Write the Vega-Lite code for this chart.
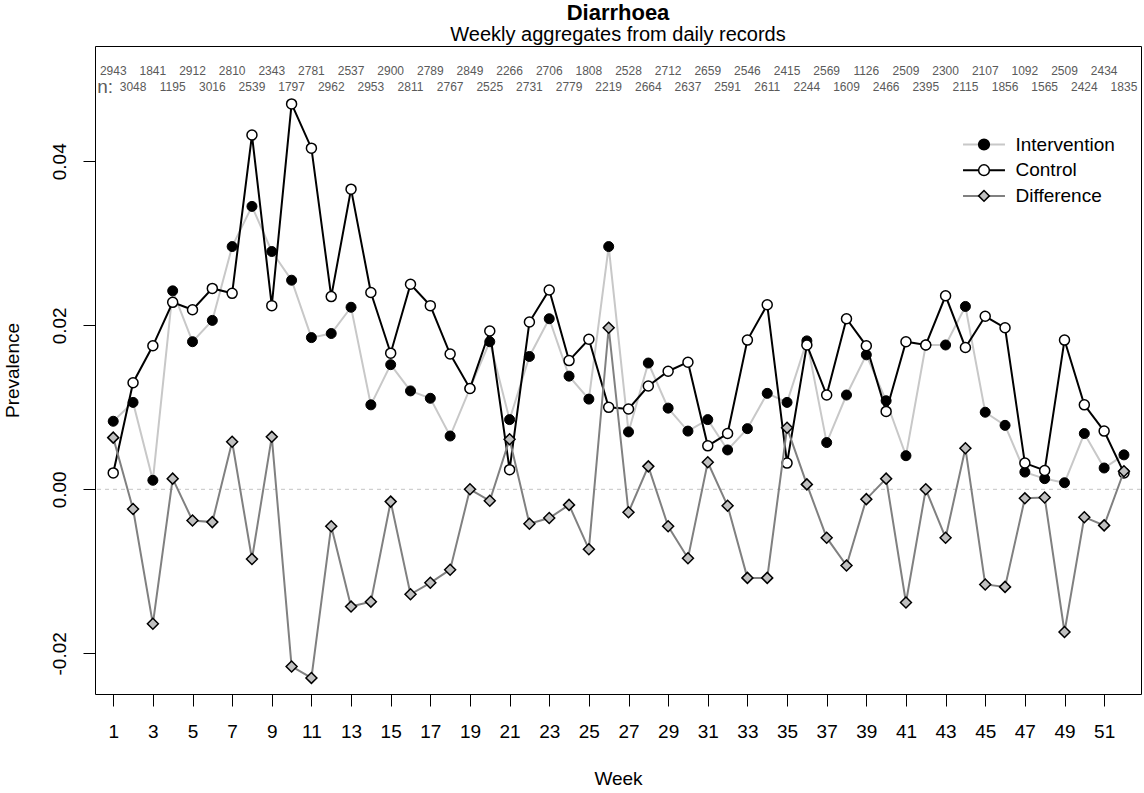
{
  "$schema": "https://vega.github.io/schema/vega-lite/v6.json",
  "width": 1046,
  "height": 648,
  "autosize": {"type": "none"},
  "padding": {"left": 95, "top": 46, "right": 3, "bottom": 99},
  "background": "white",
  "config": {
    "font": "Liberation Sans",
    "view": {"stroke": "black", "strokeWidth": 1},
    "axis": {"grid": false, "domain": false, "tickColor": "black", "labelColor": "black", "titleColor": "black", "labelFont": "Liberation Sans", "titleFont": "Liberation Sans", "titleFontWeight": "normal", "labelFontSize": 19, "titleFontSize": 19, "tickSize": 12, "labelOverlap": false, "labelFlush": false}
  },
  "title": {"text": "Diarrhoea", "subtitle": "Weekly aggregates from daily records", "anchor": "middle", "fontSize": 22, "fontWeight": "bold", "subtitleFontSize": 20, "color": "black", "subtitleColor": "black", "font": "Liberation Sans", "subtitleFont": "Liberation Sans", "offset": 0.5, "subtitlePadding": 0},
  "datasets": {
    "prev": [
      {"week": 1, "series": "Intervention", "value": 0.0083}, {"week": 1, "series": "Control", "value": 0.0020}, {"week": 1, "series": "Difference", "value": 0.0063},
      {"week": 2, "series": "Intervention", "value": 0.0106}, {"week": 2, "series": "Control", "value": 0.0130}, {"week": 2, "series": "Difference", "value": -0.0024},
      {"week": 3, "series": "Intervention", "value": 0.0011}, {"week": 3, "series": "Control", "value": 0.0175}, {"week": 3, "series": "Difference", "value": -0.0164},
      {"week": 4, "series": "Intervention", "value": 0.0242}, {"week": 4, "series": "Control", "value": 0.0228}, {"week": 4, "series": "Difference", "value": 0.0013},
      {"week": 5, "series": "Intervention", "value": 0.0180}, {"week": 5, "series": "Control", "value": 0.0219}, {"week": 5, "series": "Difference", "value": -0.0038},
      {"week": 6, "series": "Intervention", "value": 0.0206}, {"week": 6, "series": "Control", "value": 0.0245}, {"week": 6, "series": "Difference", "value": -0.0040},
      {"week": 7, "series": "Intervention", "value": 0.0296}, {"week": 7, "series": "Control", "value": 0.0239}, {"week": 7, "series": "Difference", "value": 0.0058},
      {"week": 8, "series": "Intervention", "value": 0.0345}, {"week": 8, "series": "Control", "value": 0.0432}, {"week": 8, "series": "Difference", "value": -0.0085},
      {"week": 9, "series": "Intervention", "value": 0.0290}, {"week": 9, "series": "Control", "value": 0.0224}, {"week": 9, "series": "Difference", "value": 0.0064},
      {"week": 10, "series": "Intervention", "value": 0.0255}, {"week": 10, "series": "Control", "value": 0.0470}, {"week": 10, "series": "Difference", "value": -0.0216},
      {"week": 11, "series": "Intervention", "value": 0.0185}, {"week": 11, "series": "Control", "value": 0.0416}, {"week": 11, "series": "Difference", "value": -0.0230},
      {"week": 12, "series": "Intervention", "value": 0.0190}, {"week": 12, "series": "Control", "value": 0.0235}, {"week": 12, "series": "Difference", "value": -0.0045},
      {"week": 13, "series": "Intervention", "value": 0.0222}, {"week": 13, "series": "Control", "value": 0.0366}, {"week": 13, "series": "Difference", "value": -0.0143},
      {"week": 14, "series": "Intervention", "value": 0.0103}, {"week": 14, "series": "Control", "value": 0.0240}, {"week": 14, "series": "Difference", "value": -0.0137},
      {"week": 15, "series": "Intervention", "value": 0.0152}, {"week": 15, "series": "Control", "value": 0.0166}, {"week": 15, "series": "Difference", "value": -0.0015},
      {"week": 16, "series": "Intervention", "value": 0.0120}, {"week": 16, "series": "Control", "value": 0.0250}, {"week": 16, "series": "Difference", "value": -0.0128},
      {"week": 17, "series": "Intervention", "value": 0.0111}, {"week": 17, "series": "Control", "value": 0.0224}, {"week": 17, "series": "Difference", "value": -0.0114},
      {"week": 18, "series": "Intervention", "value": 0.0065}, {"week": 18, "series": "Control", "value": 0.0165}, {"week": 18, "series": "Difference", "value": -0.0098},
      {"week": 19, "series": "Intervention", "value": 0.0123}, {"week": 19, "series": "Control", "value": 0.0123}, {"week": 19, "series": "Difference", "value": 0.0000},
      {"week": 20, "series": "Intervention", "value": 0.0180}, {"week": 20, "series": "Control", "value": 0.0193}, {"week": 20, "series": "Difference", "value": -0.0014},
      {"week": 21, "series": "Intervention", "value": 0.0085}, {"week": 21, "series": "Control", "value": 0.0024}, {"week": 21, "series": "Difference", "value": 0.0061},
      {"week": 22, "series": "Intervention", "value": 0.0162}, {"week": 22, "series": "Control", "value": 0.0204}, {"week": 22, "series": "Difference", "value": -0.0042},
      {"week": 23, "series": "Intervention", "value": 0.0208}, {"week": 23, "series": "Control", "value": 0.0243}, {"week": 23, "series": "Difference", "value": -0.0035},
      {"week": 24, "series": "Intervention", "value": 0.0138}, {"week": 24, "series": "Control", "value": 0.0157}, {"week": 24, "series": "Difference", "value": -0.0019},
      {"week": 25, "series": "Intervention", "value": 0.0110}, {"week": 25, "series": "Control", "value": 0.0183}, {"week": 25, "series": "Difference", "value": -0.0073},
      {"week": 26, "series": "Intervention", "value": 0.0296}, {"week": 26, "series": "Control", "value": 0.0100}, {"week": 26, "series": "Difference", "value": 0.0197},
      {"week": 27, "series": "Intervention", "value": 0.0070}, {"week": 27, "series": "Control", "value": 0.0098}, {"week": 27, "series": "Difference", "value": -0.0028},
      {"week": 28, "series": "Intervention", "value": 0.0154}, {"week": 28, "series": "Control", "value": 0.0126}, {"week": 28, "series": "Difference", "value": 0.0028},
      {"week": 29, "series": "Intervention", "value": 0.0099}, {"week": 29, "series": "Control", "value": 0.0144}, {"week": 29, "series": "Difference", "value": -0.0045},
      {"week": 30, "series": "Intervention", "value": 0.0071}, {"week": 30, "series": "Control", "value": 0.0155}, {"week": 30, "series": "Difference", "value": -0.0084},
      {"week": 31, "series": "Intervention", "value": 0.0085}, {"week": 31, "series": "Control", "value": 0.0053}, {"week": 31, "series": "Difference", "value": 0.0033},
      {"week": 32, "series": "Intervention", "value": 0.0048}, {"week": 32, "series": "Control", "value": 0.0068}, {"week": 32, "series": "Difference", "value": -0.0020},
      {"week": 33, "series": "Intervention", "value": 0.0074}, {"week": 33, "series": "Control", "value": 0.0182}, {"week": 33, "series": "Difference", "value": -0.0108},
      {"week": 34, "series": "Intervention", "value": 0.0117}, {"week": 34, "series": "Control", "value": 0.0225}, {"week": 34, "series": "Difference", "value": -0.0108},
      {"week": 35, "series": "Intervention", "value": 0.0106}, {"week": 35, "series": "Control", "value": 0.0032}, {"week": 35, "series": "Difference", "value": 0.0075},
      {"week": 36, "series": "Intervention", "value": 0.0181}, {"week": 36, "series": "Control", "value": 0.0176}, {"week": 36, "series": "Difference", "value": 0.0006},
      {"week": 37, "series": "Intervention", "value": 0.0057}, {"week": 37, "series": "Control", "value": 0.0115}, {"week": 37, "series": "Difference", "value": -0.0059},
      {"week": 38, "series": "Intervention", "value": 0.0115}, {"week": 38, "series": "Control", "value": 0.0208}, {"week": 38, "series": "Difference", "value": -0.0093},
      {"week": 39, "series": "Intervention", "value": 0.0164}, {"week": 39, "series": "Control", "value": 0.0175}, {"week": 39, "series": "Difference", "value": -0.0012},
      {"week": 40, "series": "Intervention", "value": 0.0108}, {"week": 40, "series": "Control", "value": 0.0095}, {"week": 40, "series": "Difference", "value": 0.0013},
      {"week": 41, "series": "Intervention", "value": 0.0041}, {"week": 41, "series": "Control", "value": 0.0180}, {"week": 41, "series": "Difference", "value": -0.0138},
      {"week": 42, "series": "Intervention", "value": 0.0176}, {"week": 42, "series": "Control", "value": 0.0176}, {"week": 42, "series": "Difference", "value": 0.0000},
      {"week": 43, "series": "Intervention", "value": 0.0176}, {"week": 43, "series": "Control", "value": 0.0236}, {"week": 43, "series": "Difference", "value": -0.0059},
      {"week": 44, "series": "Intervention", "value": 0.0223}, {"week": 44, "series": "Control", "value": 0.0173}, {"week": 44, "series": "Difference", "value": 0.0050},
      {"week": 45, "series": "Intervention", "value": 0.0094}, {"week": 45, "series": "Control", "value": 0.0211}, {"week": 45, "series": "Difference", "value": -0.0116},
      {"week": 46, "series": "Intervention", "value": 0.0078}, {"week": 46, "series": "Control", "value": 0.0197}, {"week": 46, "series": "Difference", "value": -0.0119},
      {"week": 47, "series": "Intervention", "value": 0.0021}, {"week": 47, "series": "Control", "value": 0.0032}, {"week": 47, "series": "Difference", "value": -0.0011},
      {"week": 48, "series": "Intervention", "value": 0.0013}, {"week": 48, "series": "Control", "value": 0.0023}, {"week": 48, "series": "Difference", "value": -0.0010},
      {"week": 49, "series": "Intervention", "value": 0.0008}, {"week": 49, "series": "Control", "value": 0.0182}, {"week": 49, "series": "Difference", "value": -0.0174},
      {"week": 50, "series": "Intervention", "value": 0.0068}, {"week": 50, "series": "Control", "value": 0.0103}, {"week": 50, "series": "Difference", "value": -0.0034},
      {"week": 51, "series": "Intervention", "value": 0.0026}, {"week": 51, "series": "Control", "value": 0.0071}, {"week": 51, "series": "Difference", "value": -0.0044},
      {"week": 52, "series": "Intervention", "value": 0.0042}, {"week": 52, "series": "Control", "value": 0.0020}, {"week": 52, "series": "Difference", "value": 0.0022}
    ],
    "counts": [
      {"week": 1, "n": 2943}, {"week": 2, "n": 3048}, {"week": 3, "n": 1841}, {"week": 4, "n": 1195},
      {"week": 5, "n": 2912}, {"week": 6, "n": 3016}, {"week": 7, "n": 2810}, {"week": 8, "n": 2539},
      {"week": 9, "n": 2343}, {"week": 10, "n": 1797}, {"week": 11, "n": 2781}, {"week": 12, "n": 2962},
      {"week": 13, "n": 2537}, {"week": 14, "n": 2953}, {"week": 15, "n": 2900}, {"week": 16, "n": 2811},
      {"week": 17, "n": 2789}, {"week": 18, "n": 2767}, {"week": 19, "n": 2849}, {"week": 20, "n": 2525},
      {"week": 21, "n": 2266}, {"week": 22, "n": 2731}, {"week": 23, "n": 2706}, {"week": 24, "n": 2779},
      {"week": 25, "n": 1808}, {"week": 26, "n": 2219}, {"week": 27, "n": 2528}, {"week": 28, "n": 2664},
      {"week": 29, "n": 2712}, {"week": 30, "n": 2637}, {"week": 31, "n": 2659}, {"week": 32, "n": 2591},
      {"week": 33, "n": 2546}, {"week": 34, "n": 2611}, {"week": 35, "n": 2415}, {"week": 36, "n": 2244},
      {"week": 37, "n": 2569}, {"week": 38, "n": 1609}, {"week": 39, "n": 1126}, {"week": 40, "n": 2466},
      {"week": 41, "n": 2509}, {"week": 42, "n": 2395}, {"week": 43, "n": 2300}, {"week": 44, "n": 2115},
      {"week": 45, "n": 2107}, {"week": 46, "n": 1856}, {"week": 47, "n": 1092}, {"week": 48, "n": 1565},
      {"week": 49, "n": 2509}, {"week": 50, "n": 2424}, {"week": 51, "n": 2434}, {"week": 52, "n": 1835}
    ]
  },
  "layer": [
    {
      "data": {"values": [{"ref": 0}]},
      "mark": {"type": "rule", "color": "#c4c4c4", "strokeDash": [4, 4], "strokeWidth": 1},
      "encoding": {
        "y": {"field": "ref", "type": "quantitative", "scale": {"domain": [-0.02496, 0.05406], "nice": false, "zero": false},
          "axis": {"values": [-0.02, 0, 0.02, 0.04], "format": ".2f", "labelExpr": "replace(datum.label, '\u2212', '-')", "labelAngle": 270, "labelAlign": "center", "labelBaseline": "bottom", "labelPadding": 14, "title": "Prevalence", "titlePadding": 28}}
      }
    },
    {
      "data": {"name": "prev"},
      "transform": [{"filter": "datum.series == 'Intervention'"}],
      "mark": {"type": "line", "strokeWidth": 2},
      "encoding": {
        "x": {"field": "week", "type": "quantitative", "scale": {"domain": [0.08, 52.86], "nice": false, "zero": false},
          "axis": {"values": [1,2,3,4,5,6,7,8,9,10,11,12,13,14,15,16,17,18,19,20,21,22,23,24,25,26,27,28,29,30,31,32,33,34,35,36,37,38,39,40,41,42,43,44,45,46,47,48,49,50,51,52], "labelExpr": "datum.value % 2 == 1 ? datum.label : ''", "format": "d", "labelPadding": 16, "title": "Week", "titlePadding": 28}},
        "y": {"field": "value", "type": "quantitative", "scale": {"domain": [-0.02496, 0.05406], "nice": false, "zero": false}},
        "color": {"field": "series", "type": "nominal",
          "scale": {"domain": ["Intervention", "Control", "Difference", "_"], "range": ["#c8c8c8", "#000000", "#808080", "#ffffff"]},
          "legend": {"values": ["Intervention", "Control", "Difference"], "orient": "none", "legendX": 879.5, "legendY": 89, "title": null, "padding": 0, "symbolType": "M-4,0H4", "symbolSize": 110, "symbolStrokeWidth": 2, "labelFontSize": 19, "labelOpacity": 0, "labelOffset": 22, "rowPadding": 5.7, "labelFont": "Liberation Sans"}}
      }
    },
    {
      "data": {"name": "prev"},
      "transform": [{"filter": "datum.series == 'Intervention'"}],
      "mark": {"type": "point", "filled": true, "strokeWidth": 1, "size": 100, "opacity": 1},
      "encoding": {
        "x": {"field": "week", "type": "quantitative", "scale": {"domain": [0.08, 52.86], "nice": false, "zero": false}},
        "y": {"field": "value", "type": "quantitative", "scale": {"domain": [-0.02496, 0.05406], "nice": false, "zero": false}},
        "fill": {"field": "series", "type": "nominal", "scale": {"domain": ["Intervention", "Control", "Difference"], "range": ["#000000", "#ffffff", "#c0c0c0"]},
          "legend": {"orient": "none", "legendX": 879.5, "legendY": 89, "title": null, "padding": 0, "symbolSize": 115, "symbolStrokeWidth": 1.5, "labelFontSize": 19, "labelColor": "black", "labelOffset": 22, "rowPadding": 5.7, "labelFont": "Liberation Sans"}},
        "shape": {"field": "series", "type": "nominal", "scale": {"domain": ["Intervention", "Control", "Difference"], "range": ["circle", "circle", "diamond"]},
          "legend": {"orient": "none", "legendX": 879.5, "legendY": 89, "title": null, "padding": 0, "symbolSize": 115, "symbolStrokeWidth": 1.5, "labelFontSize": 19, "labelColor": "black", "labelOffset": 22, "rowPadding": 5.7, "labelFont": "Liberation Sans"}},
        "stroke": {"field": "series", "type": "nominal", "scale": {"domain": ["Intervention", "Control", "Difference"], "range": ["#000000", "#000000", "#000000"]},
          "legend": {"orient": "none", "legendX": 879.5, "legendY": 89, "title": null, "padding": 0, "symbolSize": 115, "symbolStrokeWidth": 1.5, "labelFontSize": 19, "labelColor": "black", "labelOffset": 22, "rowPadding": 5.7, "labelFont": "Liberation Sans"}}
      }
    },
    {
      "data": {"name": "prev"},
      "transform": [{"filter": "datum.series == 'Control'"}],
      "mark": {"type": "line", "strokeWidth": 2},
      "encoding": {
        "x": {"field": "week", "type": "quantitative", "scale": {"domain": [0.08, 52.86], "nice": false, "zero": false}},
        "y": {"field": "value", "type": "quantitative", "scale": {"domain": [-0.02496, 0.05406], "nice": false, "zero": false}},
        "color": {"field": "series", "type": "nominal"}
      }
    },
    {
      "data": {"name": "prev"},
      "transform": [{"filter": "datum.series == 'Control'"}],
      "mark": {"type": "point", "filled": true, "strokeWidth": 1.5, "size": 100, "opacity": 1},
      "encoding": {
        "x": {"field": "week", "type": "quantitative", "scale": {"domain": [0.08, 52.86], "nice": false, "zero": false}},
        "y": {"field": "value", "type": "quantitative", "scale": {"domain": [-0.02496, 0.05406], "nice": false, "zero": false}},
        "fill": {"field": "series", "type": "nominal"},
        "shape": {"field": "series", "type": "nominal"},
        "stroke": {"field": "series", "type": "nominal"}
      }
    },
    {
      "data": {"name": "prev"},
      "transform": [{"filter": "datum.series == 'Difference'"}],
      "mark": {"type": "line", "strokeWidth": 2},
      "encoding": {
        "x": {"field": "week", "type": "quantitative", "scale": {"domain": [0.08, 52.86], "nice": false, "zero": false}},
        "y": {"field": "value", "type": "quantitative", "scale": {"domain": [-0.02496, 0.05406], "nice": false, "zero": false}},
        "color": {"field": "series", "type": "nominal"}
      }
    },
    {
      "data": {"name": "prev"},
      "transform": [{"filter": "datum.series == 'Difference'"}],
      "mark": {"type": "point", "filled": true, "strokeWidth": 1.5, "size": 120, "opacity": 1},
      "encoding": {
        "x": {"field": "week", "type": "quantitative", "scale": {"domain": [0.08, 52.86], "nice": false, "zero": false}},
        "y": {"field": "value", "type": "quantitative", "scale": {"domain": [-0.02496, 0.05406], "nice": false, "zero": false}},
        "fill": {"field": "series", "type": "nominal"},
        "shape": {"field": "series", "type": "nominal"},
        "stroke": {"field": "series", "type": "nominal"}
      }
    },
    {
      "data": {"name": "counts"},
      "transform": [{"filter": "datum.week % 2 == 1"}],
      "mark": {"type": "text", "fontSize": 12, "color": "#5a5a5a", "align": "center", "baseline": "middle", "font": "Liberation Sans"},
      "encoding": {
        "x": {"field": "week", "type": "quantitative", "scale": {"domain": [0.08, 52.86], "nice": false, "zero": false}},
        "y": {"datum": 0.05101, "type": "quantitative", "scale": {"domain": [-0.02496, 0.05406], "nice": false, "zero": false}},
        "text": {"field": "n", "type": "quantitative", "format": "d"}
      }
    },
    {
      "data": {"name": "counts"},
      "transform": [{"filter": "datum.week % 2 == 0"}],
      "mark": {"type": "text", "fontSize": 12, "color": "#5a5a5a", "align": "center", "baseline": "middle", "font": "Liberation Sans"},
      "encoding": {
        "x": {"field": "week", "type": "quantitative", "scale": {"domain": [0.08, 52.86], "nice": false, "zero": false}},
        "y": {"datum": 0.04902, "type": "quantitative", "scale": {"domain": [-0.02496, 0.05406], "nice": false, "zero": false}},
        "text": {"field": "n", "type": "quantitative", "format": "d"}
      }
    },
    {
      "data": {"values": [{"label": "n:"}]},
      "mark": {"type": "text", "fontSize": 19, "color": "#5a5a5a", "align": "left", "baseline": "middle", "font": "Liberation Sans"},
      "encoding": {
        "x": {"datum": 0.19, "type": "quantitative", "scale": {"domain": [0.08, 52.86], "nice": false, "zero": false}},
        "y": {"datum": 0.04902, "type": "quantitative", "scale": {"domain": [-0.02496, 0.05406], "nice": false, "zero": false}},
        "text": {"field": "label", "type": "nominal"}
      }
    }
  ]
}
